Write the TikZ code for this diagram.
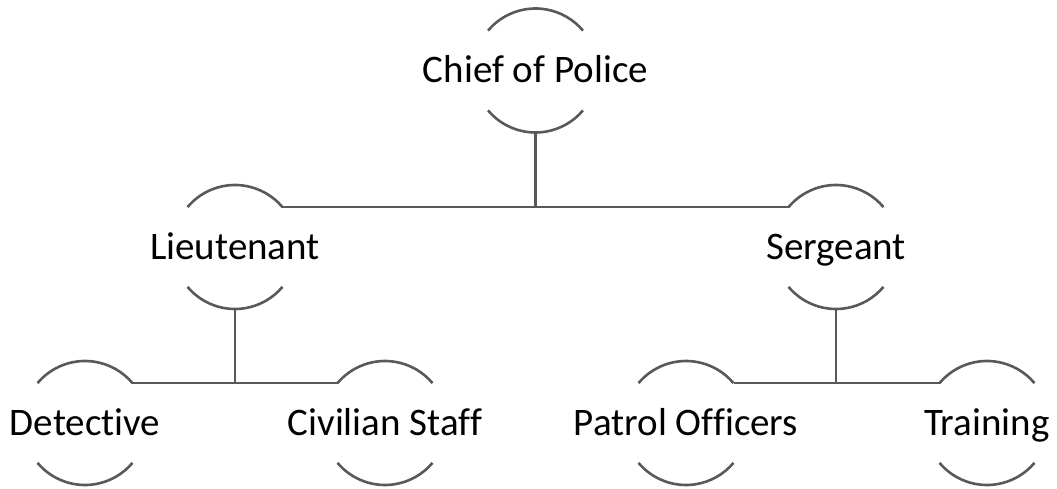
\documentclass[tikz,border=0pt]{standalone}
\usepackage{fontspec}
\setmainfont{Carlito}[Ligatures=NoCommon]
\usepackage{tikz}
\definecolor{rankgray}{RGB}{89,89,89}

\begin{document}
\begin{tikzpicture}[x=1pt,y=1pt,
		rank/.style={circle,minimum size=124pt,inner sep=0pt,outer sep=0pt},
		title/.style={font=\fontsize{39}{47}\selectfont,inner sep=0pt,text height=24pt,text depth=0pt},
		wire/.style={draw=rankgray,line width=2.6pt}]
		\useasboundingbox (0,-489) rectangle (1057,0);
		\node[rank] (chief) at (535.5,-70.5) {};
		\node[rank] (lieut) at (235,-247) {};
		\node[rank] (serg) at (836,-247) {};
		\node[rank] (det) at (85,-423) {};
		\node[rank] (civ) at (385,-423) {};
		\node[rank] (patrol) at (686,-423) {};
		\node[rank] (train) at (987,-423) {};
		\node[title] (chieftxt) at (chief) {Chief of Police};
		\node[title] (lieuttxt) at (lieut) {Lieutenant};
		\node[title] (sergtxt) at (serg) {Sergeant};
		\node[title] (dettxt) at (det) {Detective};
		\node[title] (civtxt) at (civ) {Civilian Staff};
		\node[title] (patroltxt) at (patrol) {Patrol Officers};
		\node[title] (traintxt) at (train) {Training};
		\foreach \n in {chief,lieut,serg,det,civ,patrol,train}{
			\path [wire] (\n.140) arc[start angle=140,end angle=40,radius=62pt];
			\path [wire] (\n.220) arc[start angle=220,end angle=320,radius=62pt];
		}
		\path [wire] (chief.south)--(chief.south |- lieut.40);
		\path [wire] (lieut.40)--(serg.140);
		\path [wire] (lieut.south)--(lieut.south |- det.40);
		\path [wire] (det.40)--(civ.140);
		\path [wire] (serg.south)--(serg.south |- patrol.40);
		\path [wire] (patrol.40)--(train.140);
	\end{tikzpicture}
\end{document}
